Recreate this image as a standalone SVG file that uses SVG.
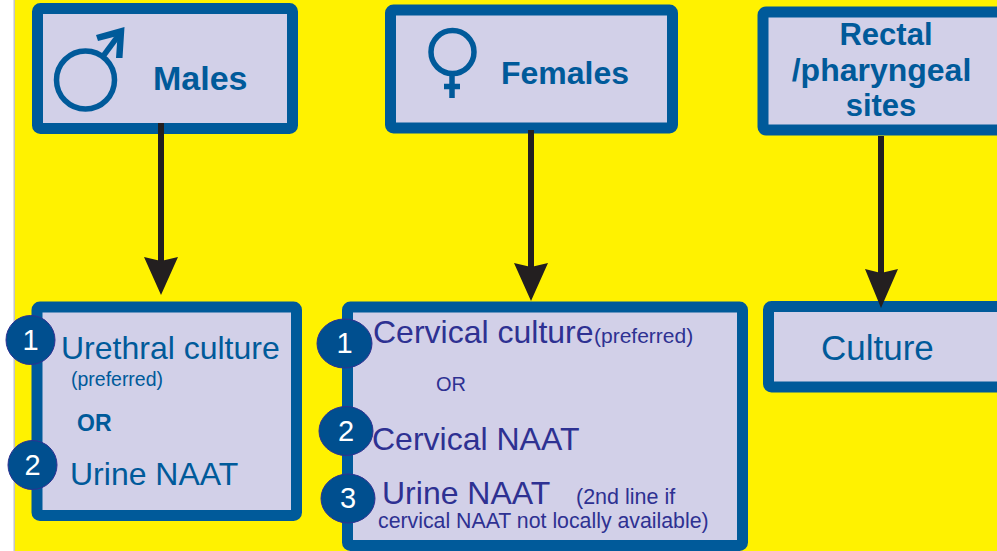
<svg xmlns="http://www.w3.org/2000/svg" width="997" height="551" viewBox="0 0 997 551">
<defs>
<style>
text{font-family:"Liberation Sans",Arial,sans-serif}
.box{fill:#d2d0e8;stroke:#005a9a;stroke-width:11;stroke-linejoin:round}
.bd{fill:#005a9a;font-weight:bold}
.bl{fill:#005a9a}
.pu{fill:#2e3192}
.badge{fill:#004f8f;stroke:#2e3192;stroke-width:1}
.num{fill:#fff;font-size:29px;text-anchor:middle}
.sym{fill:none;stroke:#005a9a}
.shaft{stroke:#231f20;stroke-width:6;fill:none}
.head{fill:#231f20}
</style>
</defs>
<rect x="0" y="0" width="997" height="551" fill="#fff"/>
<rect x="15" y="0" width="982" height="551" fill="#fff200"/>
<rect x="13.500" y="0" width="1.500" height="551" fill="#c4c4c4"/>
<g id="node-males">
<rect class="box" x="37.500" y="8.500" width="255" height="120" rx="3"/>
<circle class="sym" cx="85.500" cy="80" r="29" stroke-width="5.500"/>
<path class="sym" stroke-width="5.500" d="M102.500 57L121 32"/>
<path d="M96 35L124.500 27L122.500 58L116 58L117.500 36L98 41Z" fill="#005a9a"/>
<text class="bd" x="153" y="90" font-size="34">Males</text>
</g>
<g id="node-females">
<rect class="box" x="390.500" y="10" width="282" height="118" rx="3"/>
<circle class="sym" cx="452.500" cy="52" r="21.500" stroke-width="5.500"/>
<path class="sym" stroke-width="5.500" d="M452 73V98M444 86.500H460"/>
<text class="bd" x="501" y="83.500" font-size="32">Females</text>
</g>
<g id="node-rectal">
<rect class="box" x="763" y="12" width="240" height="118" rx="3"/>
<text class="bd" x="886" y="45" font-size="31" text-anchor="middle">Rectal</text>
<text class="bd" x="881.500" y="81" font-size="32" text-anchor="middle">/pharyngeal</text>
<text class="bd" x="881" y="116" font-size="31" text-anchor="middle">sites</text>
</g>
<g id="node-male-tests">
<rect class="box" x="37" y="307" width="259.500" height="208.500" rx="3"/>
<text class="bl" x="61" y="359" font-size="32">Urethral culture</text>
<text class="bl" x="71" y="386" font-size="21" textLength="92" lengthAdjust="spacingAndGlyphs">(preferred)</text>
<text class="bd" x="77" y="431" font-size="23">OR</text>
<text class="bl" x="70" y="485" font-size="32">Urine NAAT</text>
<circle class="badge" cx="30.500" cy="340" r="24.500"/>
<text class="num" x="30.500" y="350">1</text>
<circle class="badge" cx="32.500" cy="465" r="24.500"/>
<text class="num" x="32.500" y="475">2</text>
</g>
<g id="node-female-tests">
<rect class="box" x="347.500" y="307" width="395" height="238.500" rx="3"/>
<text class="pu" x="373" y="343" font-size="32">Cervical culture</text>
<text class="pu" x="594" y="343" font-size="21">(preferred)</text>
<text class="pu" x="436" y="391" font-size="20">OR</text>
<text class="pu" x="372" y="450" font-size="32">Cervical NAAT</text>
<text class="pu" x="382" y="504" font-size="32">Urine NAAT</text>
<text class="pu" x="576" y="504" font-size="21.500">(2nd line if</text>
<text class="pu" x="378" y="528" font-size="21.300">cervical NAAT not locally available)</text>
<ellipse class="badge" cx="344.500" cy="343.500" rx="27.500" ry="24.500"/>
<text class="num" x="344.500" y="353">1</text>
<ellipse class="badge" cx="346" cy="431" rx="27" ry="24.500"/>
<text class="num" x="346" y="441">2</text>
<ellipse class="badge" cx="348" cy="498.500" rx="27" ry="24.500"/>
<text class="num" x="348" y="508">3</text>
</g>
<g id="node-culture">
<rect class="box" x="768.500" y="306.500" width="234" height="80.500" rx="3"/>
<text class="bl" x="821" y="360" font-size="35">Culture</text>
</g>
<g id="connectors">
<path class="shaft" d="M161 123V262"/>
<path class="head" d="M161 295L144 257L161 261L178 257Z"/>
<path class="shaft" d="M531 130V268"/>
<path class="head" d="M531 301L514 263L531 267L548 263Z"/>
<path class="shaft" d="M881 136V275"/>
<path class="head" d="M881 308L865 269L881 273L898 269Z"/>
</g>
</svg>
